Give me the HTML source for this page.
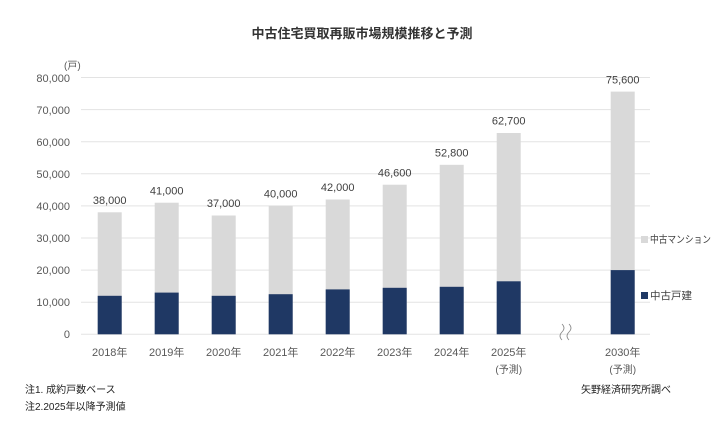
<!DOCTYPE html><html><head><meta charset="utf-8"><style>
body{margin:0;background:#fff}
text{font-family:"Liberation Sans","Noto Sans CJK JP",sans-serif}
</style></head><body>
<svg width="721" height="422" xmlns="http://www.w3.org/2000/svg">
<text x="362" y="38" text-anchor="middle" font-size="13" font-weight="bold" fill="#333">中古住宅買取再販市場規模推移と予測</text>
<g stroke="#e3e3e3" stroke-width="1">
<line x1="81" x2="650" y1="77.5" y2="77.5"/><line x1="81" x2="650" y1="109.6" y2="109.6"/>
<line x1="81" x2="650" y1="141.7" y2="141.7"/><line x1="81" x2="650" y1="173.8" y2="173.8"/>
<line x1="81" x2="650" y1="205.9" y2="205.9"/><line x1="81" x2="650" y1="238" y2="238"/>
<line x1="81" x2="650" y1="270.1" y2="270.1"/><line x1="81" x2="650" y1="302.2" y2="302.2"/>
<line x1="81" x2="650" y1="334.3" y2="334.3"/>
</g>
<g font-size="11" fill="#595959" text-anchor="end">
<text x="70" y="82">80,000</text><text x="70" y="114">70,000</text><text x="70" y="146">60,000</text>
<text x="70" y="178">50,000</text><text x="70" y="210">40,000</text><text x="70" y="242">30,000</text>
<text x="70" y="274">20,000</text><text x="70" y="306">10,000</text><text x="70" y="338">0</text>
</g>
<text x="64" y="69" font-size="10" fill="#595959">(戸)</text>
<g fill="#d9d9d9">
<rect x="97.7" y="212.3" width="24" height="122"/>
<rect x="154.7" y="202.7" width="24" height="131.6"/>
<rect x="211.7" y="215.5" width="24" height="118.8"/>
<rect x="268.7" y="205.9" width="24" height="128.4"/>
<rect x="325.7" y="199.5" width="24" height="134.8"/>
<rect x="382.7" y="184.7" width="24" height="149.6"/>
<rect x="439.7" y="164.8" width="24" height="169.5"/>
<rect x="496.7" y="133" width="24" height="201.3"/>
<rect x="610.7" y="91.6" width="24" height="242.7"/>
</g>
<g fill="#1f3864">
<rect x="97.7" y="295.8" width="24" height="38.5"/>
<rect x="154.7" y="292.6" width="24" height="41.7"/>
<rect x="211.7" y="295.8" width="24" height="38.5"/>
<rect x="268.7" y="294.2" width="24" height="40.1"/>
<rect x="325.7" y="289.4" width="24" height="44.9"/>
<rect x="382.7" y="287.8" width="24" height="46.5"/>
<rect x="439.7" y="286.8" width="24" height="47.5"/>
<rect x="496.7" y="281.3" width="24" height="53"/>
<rect x="610.7" y="270.1" width="24" height="64.2"/>
</g>
<g font-size="11" fill="#404040" text-anchor="middle">
<text x="109.7" y="204">38,000</text>
<text x="166.7" y="194.5">41,000</text>
<text x="223.7" y="207">37,000</text>
<text x="280.7" y="197.5">40,000</text>
<text x="337.7" y="191">42,000</text>
<text x="394.7" y="176.5">46,600</text>
<text x="451.7" y="156.5">52,800</text>
<text x="508.7" y="124.5">62,700</text>
<text x="622.7" y="83.5">75,600</text>
</g>
<g font-size="11" fill="#595959" text-anchor="middle">
<text x="109.7" y="356">2018年</text><text x="166.7" y="356">2019年</text><text x="223.7" y="356">2020年</text>
<text x="280.7" y="356">2021年</text><text x="337.7" y="356">2022年</text><text x="394.7" y="356">2023年</text>
<text x="451.7" y="356">2024年</text><text x="508.7" y="356">2025年</text><text x="622.7" y="356">2030年</text>
<text x="508.7" y="373" font-size="10">(予測)</text><text x="622.7" y="373" font-size="10">(予測)</text>
</g>
<path d="M562 340 q-4 -4 0 -8 q4 -4 0 -8 M569 340 q-4 -4 0 -8 q4 -4 0 -8" stroke="#888" fill="none" stroke-width="0.8"/>
<rect x="641" y="236" width="7" height="7" fill="#d9d9d9"/>
<text x="650" y="243" font-size="10" fill="#404040" textLength="61" lengthAdjust="spacingAndGlyphs">中古マンション</text>
<rect x="641" y="292" width="7" height="7" fill="#1f3864"/>
<text x="650" y="299" font-size="10.5" fill="#404040">中古戸建</text>
<text x="25" y="393" font-size="10" fill="#222">注1. 成約戸数ベース</text>
<text x="25" y="410" font-size="10" fill="#222">注2.2025年以降予測値</text>
<text x="581" y="393" font-size="10" fill="#222">矢野経済研究所調べ</text>
</svg></body></html>
